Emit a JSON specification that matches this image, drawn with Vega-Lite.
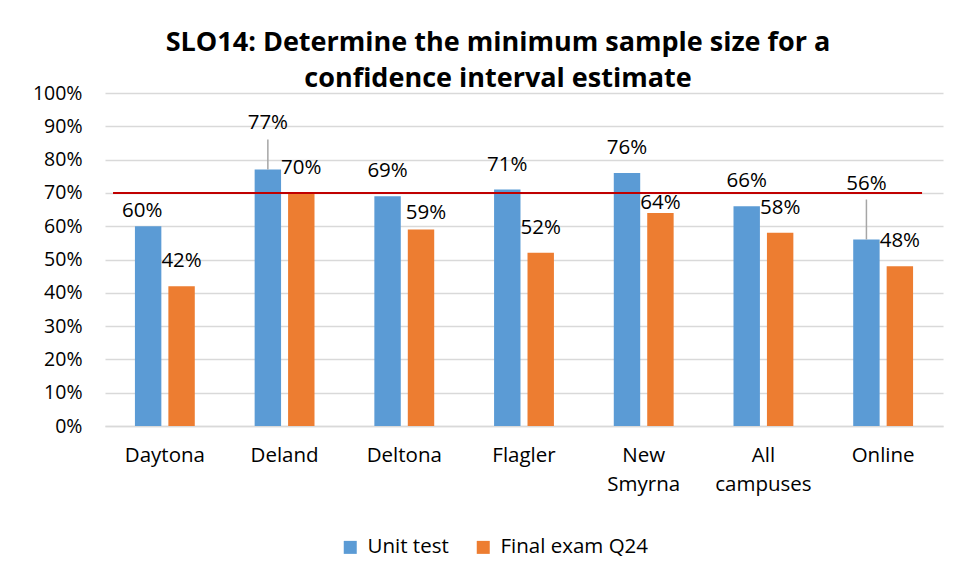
{
  "$schema": "https://vega.github.io/schema/vega-lite/v6.json",
  "width": 838,
  "height": 333,
  "autosize": {"type": "none"},
  "padding": {"left": 105, "top": 93, "right": 10, "bottom": 155},
  "background": "white",
  "config": {
    "font": "Open Sans",
    "view": {"stroke": null},
    "axis": {"labelFont": "Open Sans", "labelColor": "#000000", "labelFontSize": 19.5, "titleFont": "Open Sans"},
    "legend": {"labelFont": "Open Sans"}
  },
  "title": {
    "text": ["SLO14: Determine the minimum sample size for a", "confidence interval estimate"],
    "font": "Open Sans",
    "fontSize": 27,
    "fontWeight": "bold",
    "color": "#000000",
    "anchor": "middle",
    "lineHeight": 36,
    "dx": -26,
    "offset": -10
  },
  "data": {
    "values": [
      {"campus": "Daytona", "series": "Unit test", "value": 0.60},
      {"campus": "Daytona", "series": "Final exam Q24", "value": 0.42},
      {"campus": "Deland", "series": "Unit test", "value": 0.77},
      {"campus": "Deland", "series": "Final exam Q24", "value": 0.70},
      {"campus": "Deltona", "series": "Unit test", "value": 0.69},
      {"campus": "Deltona", "series": "Final exam Q24", "value": 0.59},
      {"campus": "Flagler", "series": "Unit test", "value": 0.71},
      {"campus": "Flagler", "series": "Final exam Q24", "value": 0.52},
      {"campus": "New Smyrna", "series": "Unit test", "value": 0.76},
      {"campus": "New Smyrna", "series": "Final exam Q24", "value": 0.64},
      {"campus": "All campuses", "series": "Unit test", "value": 0.66},
      {"campus": "All campuses", "series": "Final exam Q24", "value": 0.58},
      {"campus": "Online", "series": "Unit test", "value": 0.56},
      {"campus": "Online", "series": "Final exam Q24", "value": 0.48}
    ]
  },
  "encoding": {
    "x": {
      "field": "campus",
      "type": "nominal",
      "sort": null,
      "scale": {"paddingInner": 0.5, "paddingOuter": 0.25},
      "axis": {
        "title": null,
        "labelAngle": 0,
        "labelExpr": "split(datum.label, ' ')",
        "labelFontSize": 20.5,
        "labelLineHeight": 29,
        "labelPadding": 19,
        "labelBaseline": "top",
        "ticks": false,
        "domain": true,
        "domainColor": "#D9D9D9",
        "domainWidth": 1.5,
        "grid": false
      }
    },
    "xOffset": {
      "field": "series",
      "type": "nominal",
      "sort": ["Unit test", "Final exam Q24"],
      "scale": {"paddingInner": 0.21, "paddingOuter": 0}
    },
    "y": {
      "field": "value",
      "type": "quantitative",
      "scale": {"domain": [0, 1], "nice": false},
      "axis": {
        "title": null,
        "format": ".0%",
        "values": [0, 0.1, 0.2, 0.3, 0.4, 0.5, 0.6, 0.7, 0.8, 0.9, 1],
        "domain": false,
        "ticks": false,
        "labelPadding": 23,
        "grid": true,
        "gridColor": "#D9D9D9",
        "gridWidth": 1.5
      }
    }
  },
  "layer": [
    {
      "mark": {"type": "bar"},
      "encoding": {
        "color": {
          "field": "series",
          "type": "nominal",
          "sort": ["Unit test", "Final exam Q24"],
          "scale": {"domain": ["Unit test", "Final exam Q24"], "range": ["#5B9BD5", "#ED7D31"]},
          "legend": {
            "title": null,
            "orient": "none",
            "direction": "horizontal",
            "legendX": 235,
            "legendY": 444,
            "symbolType": "square",
            "symbolSize": 169,
            "symbolStrokeWidth": 0,
            "labelFontSize": 20.5,
            "labelColor": "#000000",
            "labelOffset": 7,
            "columnPadding": 24
          }
        }
      }
    },
    {
      "data": {"values": [{"start": "Daytona", "end": "Online", "level": 0.7}]},
      "mark": {"type": "rule", "color": "#C00000", "strokeWidth": 2},
      "encoding": {
        "x": {"field": "start", "type": "nominal", "bandPosition": -0.366},
        "x2": {"field": "end", "bandPosition": 1.15},
        "xOffset": null,
        "y": {"field": "level", "type": "quantitative"}
      }
    },
    {
      "transform": [{"filter": "!((datum.campus == 'Daytona' && datum.series == 'Unit test') || (datum.campus == 'Deltona' && datum.series == 'Final exam Q24') || (datum.campus == 'New Smyrna' && datum.series == 'Final exam Q24') || (datum.campus == 'Deland' && datum.series == 'Unit test') || (datum.campus == 'Online' && datum.series == 'Unit test'))"}],
      "mark": {"type": "text", "baseline": "middle", "dy": -25, "fontSize": 20.5, "color": "#000000"},
      "encoding": {"text": {"field": "value", "type": "quantitative", "format": ".0%"}}
    },
    {
      "transform": [{"filter": "datum.campus == 'Daytona' && datum.series == 'Unit test'"}],
      "mark": {"type": "text", "baseline": "middle", "dy": -15, "dx": -6, "fontSize": 20.5, "color": "#000000"},
      "encoding": {"text": {"field": "value", "type": "quantitative", "format": ".0%"}}
    },
    {
      "transform": [{"filter": "datum.campus == 'Deltona' && datum.series == 'Final exam Q24'"}],
      "mark": {"type": "text", "baseline": "middle", "dy": -17, "dx": 5, "fontSize": 20.5, "color": "#000000"},
      "encoding": {"text": {"field": "value", "type": "quantitative", "format": ".0%"}}
    },
    {
      "transform": [{"filter": "datum.campus == 'New Smyrna' && datum.series == 'Final exam Q24'"}],
      "mark": {"type": "text", "baseline": "middle", "dy": -10, "fontSize": 20.5, "color": "#000000"},
      "encoding": {"text": {"field": "value", "type": "quantitative", "format": ".0%"}}
    },
    {
      "transform": [{"filter": "datum.campus == 'Deland' && datum.series == 'Unit test'"}],
      "mark": {"type": "text", "baseline": "middle", "dy": -47, "fontSize": 20.5, "color": "#000000"},
      "encoding": {"text": {"field": "value", "type": "quantitative", "format": ".0%"}}
    },
    {
      "transform": [{"filter": "datum.campus == 'Online' && datum.series == 'Unit test'"}],
      "mark": {"type": "text", "baseline": "middle", "dy": -56, "fontSize": 20.5, "color": "#000000"},
      "encoding": {"text": {"field": "value", "type": "quantitative", "format": ".0%"}}
    },
    {
      "transform": [{"filter": "datum.campus == 'Deland' && datum.series == 'Unit test'"}],
      "mark": {"type": "rule", "color": "#A6A6A6", "strokeWidth": 1.5, "y2Offset": -30},
      "encoding": {"y2": {"field": "value"}}
    },
    {
      "transform": [{"filter": "datum.campus == 'Online' && datum.series == 'Unit test'"}],
      "mark": {"type": "rule", "color": "#A6A6A6", "strokeWidth": 1.5, "y2Offset": -40},
      "encoding": {"y2": {"field": "value"}}
    }
  ]
}
